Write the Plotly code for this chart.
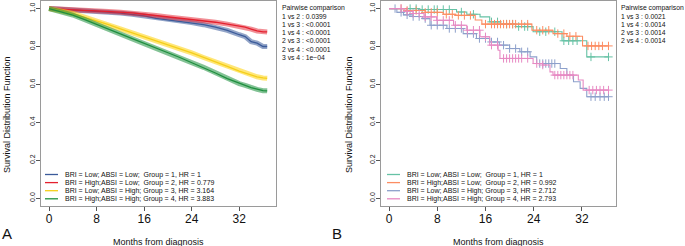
import numpy as np
import plotly.graph_objects as go

# ---------------- data ----------------
# Panel A (large cohort, smooth KM curves)
tA = [0, 2, 4, 6, 8, 10, 12, 14, 16, 18, 20, 22, 24, 26, 28, 30, 32, 33, 34, 35, 36, 36.7]
A_g1 = [1.0, 0.997, 0.993, 0.99, 0.986, 0.981, 0.976, 0.97, 0.962, 0.948, 0.94, 0.934, 0.926, 0.915, 0.902, 0.885, 0.862, 0.852, 0.825, 0.818, 0.80, 0.80]
A_g2 = [1.0, 0.998, 0.995, 0.991, 0.988, 0.985, 0.981, 0.977, 0.97, 0.963, 0.956, 0.95, 0.943, 0.935, 0.928, 0.918, 0.908, 0.902, 0.892, 0.882, 0.877, 0.877]
A_g3 = [1.0, 0.99, 0.974, 0.955, 0.936, 0.915, 0.893, 0.872, 0.852, 0.832, 0.81, 0.788, 0.766, 0.742, 0.72, 0.695, 0.67, 0.659, 0.648, 0.64, 0.634, 0.632]
A_g4 = [1.0, 0.985, 0.966, 0.942, 0.918, 0.892, 0.867, 0.841, 0.815, 0.79, 0.767, 0.742, 0.715, 0.69, 0.66, 0.63, 0.604, 0.595, 0.583, 0.574, 0.567, 0.566]

# Panel B (smaller cohort, step KM curves)
B_t1 = [0, 5, 11.2, 12.9, 15.1, 16.7, 18.5, 21, 23.9, 28.7, 32.8, 36.4]
B_s1 = [1.0, 0.995, 0.982, 0.97, 0.956, 0.93, 0.918, 0.905, 0.878, 0.83, 0.745, 0.745]
B_t2 = [0, 3, 6, 9, 11, 14.3, 15.4, 23.7, 27.2, 29.5, 32.1, 36.4]
B_s2 = [1.0, 0.99, 0.98, 0.97, 0.964, 0.94, 0.918, 0.886, 0.868, 0.854, 0.803, 0.803]
B_t3 = [0, 1.3, 2.4, 4, 5.6, 6.8, 9.6, 12.3, 14.5, 16.7, 18.3, 20, 21.7, 23.4, 24.5, 28.4, 29.5, 30.6, 31.7, 32.8, 36.4]
B_s3 = [1.0, 0.98, 0.967, 0.958, 0.947, 0.912, 0.895, 0.868, 0.842, 0.824, 0.807, 0.789, 0.772, 0.745, 0.71, 0.684, 0.649, 0.614, 0.579, 0.535, 0.535]
B_t4 = [0, 2.5, 4, 5.8, 7.9, 10.7, 12.9, 15.1, 16.7, 18.1, 18.4, 23.9, 25.5, 26.7, 27.2, 31.4, 32.2, 36.4]
B_s4 = [1.0, 0.985, 0.974, 0.956, 0.938, 0.912, 0.886, 0.851, 0.807, 0.78, 0.737, 0.71, 0.702, 0.666, 0.649, 0.623, 0.57, 0.57]

B_c1 = [3.5, 4.5, 5.5, 6.5, 7.5, 8, 9, 10, 12, 14, 17, 18, 19.5, 20.5, 21.5, 22.5, 23, 25, 26, 27.5, 29, 29.8, 30.5, 31.2, 33.5, 36.4]
B_c2 = [2, 3, 4.5, 6, 7, 8, 9.5, 10.5, 11.5, 12.5, 13.5, 16, 17, 17.5, 18, 18.5, 19, 19.5, 20, 20.5, 21, 22, 23, 24.5, 25.5, 26.5, 28, 29, 30, 31, 33, 33.6, 34.2, 34.8, 35.4, 36.4]
B_c3 = [1, 2, 3, 4, 5, 6, 7, 8, 9, 10, 11, 12, 13, 14, 15, 16, 17, 18, 19, 20, 21, 22, 23, 25, 25.5, 26, 26.5, 27, 27.5, 33.5, 34.2, 35, 35.7, 36.4]
B_c4 = [2, 3, 4, 5, 6, 7, 8, 9, 10, 11, 12, 13, 14, 15, 16, 17, 18, 19, 19.5, 20, 20.5, 21, 21.5, 22, 23, 24.5, 25.5, 27.5, 28, 28.5, 29, 29.5, 30, 30.5, 33.2, 33.8, 34.4, 35, 35.6, 36.4]

x_ticks = [0, 8, 16, 24, 32]
y_ticks = [0, 0.2, 0.4, 0.6, 0.8, 1.0]
y_ticktext = ["0.0", "0.2", "0.4", "0.6", "0.8", "1.0"]

legend_A = ["BRI = Low; ABSI = Low;\u00a0 Group = 1, HR = 1",
            "BRI = High;ABSI = Low;\u00a0 Group = 2, HR = 0.779",
            "BRI = Low; ABSI = High; Group = 3, HR = 3.164",
            "BRI = High;ABSI = High; Group = 4, HR = 3.883"]
legend_B = ["BRI = Low; ABSI = Low;\u00a0 Group = 1, HR = 1",
            "BRI = High;ABSI = Low;\u00a0 Group = 2, HR = 0.992",
            "BRI = Low; ABSI = High; Group = 3, HR = 2.712",
            "BRI = High;ABSI = High; Group = 4, HR = 2.793"]
pair_A = ["Pairwise comparison", "1 vs 2 : 0.0399", "1 vs 3 : &lt;0.0001", "1 vs 4 : &lt;0.0001",
          "2 vs 3 : &lt;0.0001", "2 vs 4 : &lt;0.0001", "3 vs 4 : 1e\u221204"]
pair_B = ["Pairwise comparison", "1 vs 3 : 0.0021", "1 vs 4 : 0.0014", "2 vs 3 : 0.0014", "2 vs 4 : 0.0014"]

# ---------------- styles ----------------
colA = ["#3B5B9A", "#E4202E", "#F5CF1A", "#1E8F3E"]
bandA = ["rgba(59,91,154,0.55)", "rgba(228,32,46,0.5)", "rgba(255,214,30,0.6)", "rgba(30,143,62,0.55)"]
colB = ["#66C2A5", "#FC8D62", "#8DA0CB", "#E78AC3"]
FONT = "Liberation Sans, Arial, sans-serif"
W, H = 685, 246

def px(x):
    return x / W

def py(y):
    return 1 - y / H

fig = go.Figure()

for s, c, b in zip([A_g1, A_g2, A_g3, A_g4], colA, bandA):
    fig.add_trace(go.Scatter(x=tA, y=s, mode="lines", line=dict(color=b, width=5),
                             xaxis="x", yaxis="y", showlegend=False, hoverinfo="skip"))
    fig.add_trace(go.Scatter(x=tA, y=s, mode="lines", line=dict(color=c, width=1.3),
                             xaxis="x", yaxis="y", showlegend=False))

for t, s, cens, c in zip([B_t1, B_t2, B_t3, B_t4], [B_s1, B_s2, B_s3, B_s4],
                         [B_c1, B_c2, B_c3, B_c4], colB):
    fig.add_trace(go.Scatter(x=t, y=s, mode="lines", line=dict(color=c, width=1.1, shape="hv"),
                             xaxis="x2", yaxis="y2", showlegend=False))
    ta = np.array(t)
    idx = np.searchsorted(ta, np.array(cens), side="right") - 1
    cy = np.array(s)[idx]
    fig.add_trace(go.Scatter(x=cens, y=cy, mode="markers",
                             marker=dict(symbol="cross-thin", size=6, line=dict(color=c, width=1)),
                             xaxis="x2", yaxis="y2", showlegend=False))

ydom = [py(205.7), py(1)]
common_x = dict(tickvals=x_ticks, ticks="outside", ticklen=4, tickcolor="#555",
                tickfont=dict(size=12, color="#111", family=FONT), showgrid=False, zeroline=False,
                showline=True, mirror=True, linecolor="#9a9a9a", linewidth=1,
                ticklabelstandoff=-2)
common_y = dict(tickvals=y_ticks, ticktext=y_ticktext, tickangle=-90, ticks="outside", ticklen=4,
                tickcolor="#555", tickfont=dict(size=7, color="#222", family=FONT),
                showgrid=False, zeroline=False, showline=True, mirror=True,
                linecolor="#9a9a9a", linewidth=1, range=[-0.04, 1.04], ticklabelstandoff=-2)

fig.update_layout(
    width=W, height=H, margin=dict(l=0, r=0, t=0, b=0),
    paper_bgcolor="white", plot_bgcolor="white", showlegend=False,
    font=dict(family=FONT, color="#111"),
    xaxis=dict(domain=[px(41), px(275.5)], range=[-1.35, 38.1], anchor="y", **common_x),
    yaxis=dict(domain=ydom, anchor="x", **common_y),
    xaxis2=dict(domain=[px(381), px(615.7)], range=[-1.33, 37.6], anchor="y2", **common_x),
    yaxis2=dict(domain=ydom, anchor="x2", **common_y),
)

ann = []
shapes = []
# axis titles
for xc, ytx in [(158, 7), (498, 349)]:
    ann.append(dict(x=px(xc), y=py(241.5), xref="paper", yref="paper", text="Months from diagnosis",
                    showarrow=False, font=dict(size=9, family=FONT), xanchor="center", yanchor="middle"))
    ann.append(dict(x=px(ytx), y=py(115), xref="paper", yref="paper", text="Survival Distribution Function",
                    showarrow=False, font=dict(size=9, family=FONT), textangle=-90,
                    xanchor="center", yanchor="middle"))
# panel letters
for lx, lab in [(7, "A"), (337, "B")]:
    ann.append(dict(x=px(lx), y=py(233), xref="paper", yref="paper", text=lab, showarrow=False,
                    font=dict(size=15, family=FONT), xanchor="center", yanchor="middle"))
# pairwise comparison texts
for tx, lines in [(281, pair_A), (619.5, pair_B)]:
    for i, line in enumerate(lines):
        ann.append(dict(x=px(tx), y=py(8 + 8.2 * i), xref="paper", yref="paper", text=line,
                        showarrow=False, font=dict(size=6.8, family=FONT), xanchor="left",
                        yanchor="middle", borderpad=0))
# legends
leg_y = [174.5, 182.6, 190.7, 198.8]
for (x0, x1, xt), labels, cols in [((45, 58, 63), legend_A, colA), ((387, 400, 405), legend_B, colB)]:
    for yy, lab, c in zip(leg_y, labels, cols):
        shapes.append(dict(type="line", xref="paper", yref="paper", x0=px(x0), x1=px(x1),
                           y0=py(yy), y1=py(yy), line=dict(color=c, width=1.3)))
        ann.append(dict(x=px(xt), y=py(yy), xref="paper", yref="paper", text=lab, showarrow=False,
                        font=dict(size=7, family=FONT), xanchor="left", yanchor="middle"))

fig.update_layout(annotations=ann, shapes=shapes)
fig.write_html("out.html", config={"displayModeBar": False},
               post_script="document.body.style.margin='0px';document.body.style.overflow='hidden';")
